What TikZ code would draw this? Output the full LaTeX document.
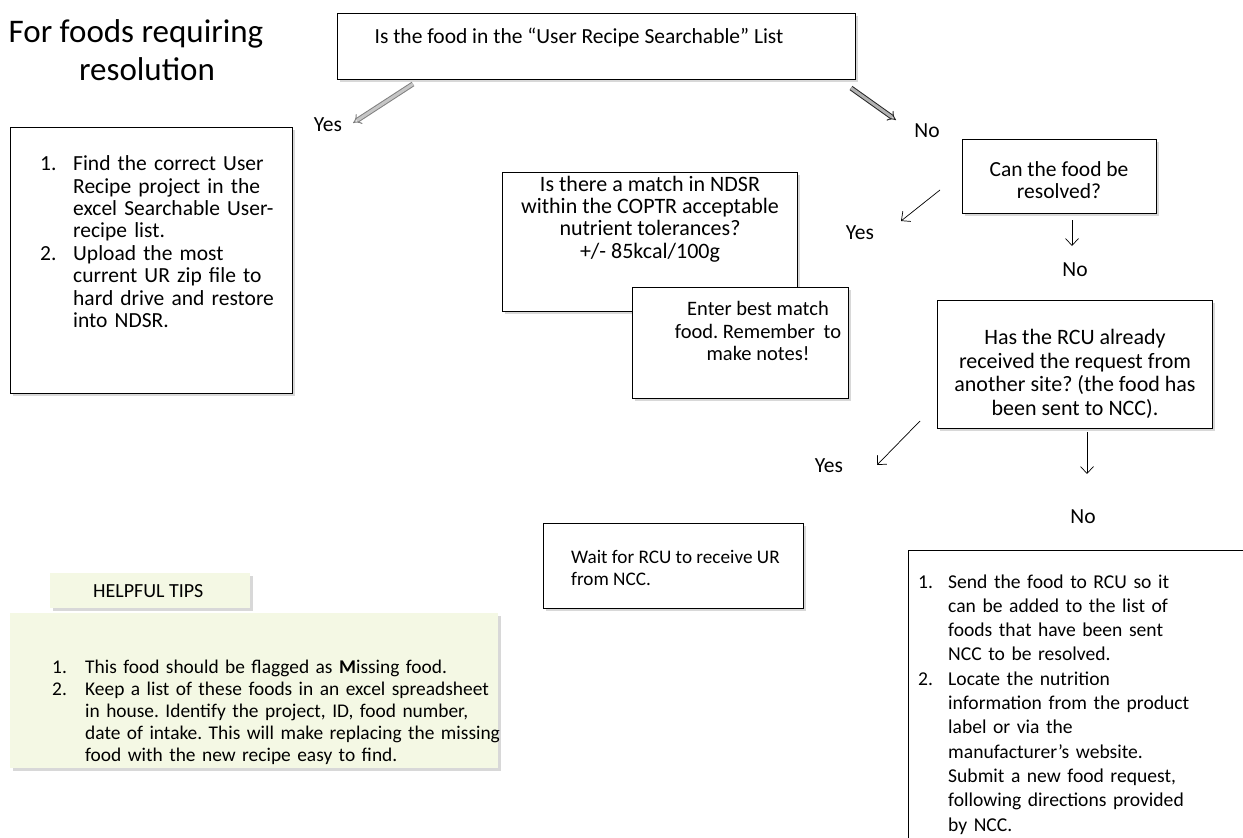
\documentclass[tikz,border=0pt]{standalone}
\usepackage{fontspec}
\setmainfont{Carlito}
\usetikzlibrary{arrows.meta, shadows}

% line break inside a ragged paragraph
\newcommand{\nl}{\hfil\break}
% numbered item with hanging indent
\newlength{\itemwd}
\newcommand{\numitem}[3]{\par\raggedright\frenchspacing\noindent\setlength{\itemwd}{#1}\hangindent=\itemwd\hangafter=1\makebox[\itemwd][l]{#2}#3\par}
% font size in picture pixels
\newcommand{\pxfont}[2]{\fontsize{#1}{#2}\selectfont\frenchspacing}

\begin{document}
\begin{tikzpicture}[x=1pt, y=-1pt,
    box/.style={draw=borderColour, line width=1.3pt, fill=white, inner sep=0pt, anchor=north west,
        drop shadow={shadow xshift=2.5pt, shadow yshift=-2.5pt, opacity=0.3}},
    tipbox/.style={fill=tipColour, inner sep=0pt, anchor=north west,
        drop shadow={shadow xshift=2.5pt, shadow yshift=-2.5pt, opacity=0.3}},
    txt/.style={inner sep=0pt, font=\pxfont{21.5}{22.4}},
    lbl/.style={inner sep=1pt, font=\pxfont{21.5}{22.4}},
    blockarrow/.style={line width=1pt, double distance=3pt, -{Implies[length=7pt]}},
    thinarrow/.style={line width=0.7pt, -{Straight Barb[length=7pt, width=13pt]}}]

    % Define colours
    \definecolor{borderColour}{HTML}{000000}
    \definecolor{tipColour}{HTML}{F4F8E4}

    % Page
    \clip (0,0) rectangle (1243,838);
    \fill[white] (0,0) rectangle (1243,838);

    % Title
    \node[align=center, inner sep=0pt, font=\pxfont{33}{38}] (title) at (136,50)
        {For foods requiring\\\hspace*{22pt}resolution};

    % Question: user recipe list
    \node[box, minimum width=518pt, minimum height=66pt] (qUR) at (337,13) {};
    \node[txt] (qURtxt) at (579,37) {Is the food in the “User Recipe Searchable” List};

    % Yes: find user recipe
    \node[box, minimum width=282pt, minimum height=266pt] (findUR) at (10,127) {};
    \node[txt, anchor=west, text width=250pt, align=left] (findURtxt) at (40,238) {%
        \numitem{33pt}{1.}{Find the correct User\nl Recipe project in the\nl excel Searchable User-\nl recipe list.}%
        \numitem{33pt}{2.}{Upload the most\nl current UR zip file to\nl hard drive and restore\nl into NDSR.}};

    % No: can it be resolved
    \node[box, minimum width=194pt, minimum height=74pt] (qRes) at (962,139) {};
    \node[txt, align=center] (qRestxt) at (1059,180) {Can the food be\\resolved?};

    % Yes: match in NDSR
    \node[box, minimum width=295pt, minimum height=139pt] (qNDSR) at (502,172) {};
    \node[txt, align=center, font=\pxfont{22}{22.4}] (qNDSRtxt) at (650,219)
        {Is there a match in NDSR\\within the COPTR acceptable\\nutrient tolerances?\\+/- 85kcal/100g};
    \node[box, minimum width=216pt, minimum height=111pt] (bestMatch) at (632,287) {};
    \node[txt, align=center, font=\pxfont{20.5}{22.2}] (bestMatchtxt) at (758,331)
        {Enter best match\\food. Remember\hspace{4pt} to\\make notes!};

    % No: has RCU received it
    \node[box, minimum width=275pt, minimum height=128pt] (qRCU) at (937,300) {};
    \node[txt, align=center, font=\pxfont{22}{23.6}] (qRCUtxt) at (1075,374)
        {Has the RCU already\\received the request from\\another site? (the food has\\been sent to NCC).};

    % Yes: wait for RCU
    \node[box, minimum width=260pt, minimum height=85pt] (wait) at (543,523) {};
    \node[txt, anchor=west, align=left, font=\pxfont{19.2}{22}] (waittxt) at (571,568)
        {Wait for RCU to receive UR\\from NCC.};

    % No: send to RCU
    \node[box, minimum width=380pt, minimum height=340pt] (sendRCU) at (908,550) {};
    \node[txt, anchor=west, text width=320pt, align=left, font=\pxfont{19.6}{24.3}] (sendRCUtxt) at (918,699) {%
        \numitem{30pt}{1.}{Send the food to RCU so it\nl can be added to the list of\nl foods that have been sent\nl NCC to be resolved.}%
        \numitem{30pt}{2.}{Locate the nutrition\nl information from the product\nl label or via the\nl manufacturer’s website.\nl Submit a new food request,\nl following directions provided\nl by NCC.}};

    % Helpful tips
    \node[tipbox, minimum width=488pt, minimum height=155pt] (tipsBody) at (10,613) {};
    \node[tipbox, minimum width=200pt, minimum height=35pt] (tipsTab) at (50,573) {};
    \node[inner sep=0pt, anchor=west, font=\pxfont{20}{22}] (tipsTabtxt) at (93,591) {HELPFUL TIPS};
    \node[txt, anchor=west, text width=500pt, align=left, font=\pxfont{19.4}{22}] (tipsBodytxt) at (52,708) {%
        \numitem{33pt}{1.}{This food should be flagged as \textbf{M}issing food.}%
        \numitem{33pt}{2.}{Keep a list of these foods in an excel spreadsheet\nl in house. Identify the project, ID, food number,\nl date of intake. This will make replacing the missing\nl food with the new recipe easy to find.}};

    % Branch labels
    \node[lbl] (yesUR) at (328,125) {Yes};
    \node[lbl] (noUR) at (927,131) {No};
    \node[lbl] (yesRes) at (860,233) {Yes};
    \node[lbl] (noRes) at (1075,270) {No};
    \node[lbl] (yesRCU) at (829,466) {Yes};
    \node[lbl] (noRCU) at (1083,517) {No};

    % Arrow end points
    \coordinate (yesURs) at (413,84);
    \coordinate (yesURe) at (353,123);
    \coordinate (noURs) at (851,88);
    \coordinate (noURe) at (896,120);
    \coordinate (yesRess) at (940,190);
    \coordinate (yesRese) at (901,221);
    \coordinate (noRess) at (1072,220);
    \coordinate (noRese) at (1072,246);
    \coordinate (yesRCUs) at (920,421);
    \coordinate (yesRCUe) at (877,465);
    \coordinate (noRCUs) at (1087,432);
    \coordinate (noRCUe) at (1087,474);

    % Arrows
    \draw[blockarrow, draw=gray, double=gray!45] (yesURs) -- (yesURe);
    \draw[blockarrow, draw=black!85, double=gray!60] (noURs) -- (noURe);
    \draw[thinarrow] (yesRess) -- (yesRese);
    \draw[thinarrow] (noRess) -- (noRese);
    \draw[thinarrow] (yesRCUs) -- (yesRCUe);
    \draw[thinarrow] (noRCUs) -- (noRCUe);

\end{tikzpicture}
\end{document}
